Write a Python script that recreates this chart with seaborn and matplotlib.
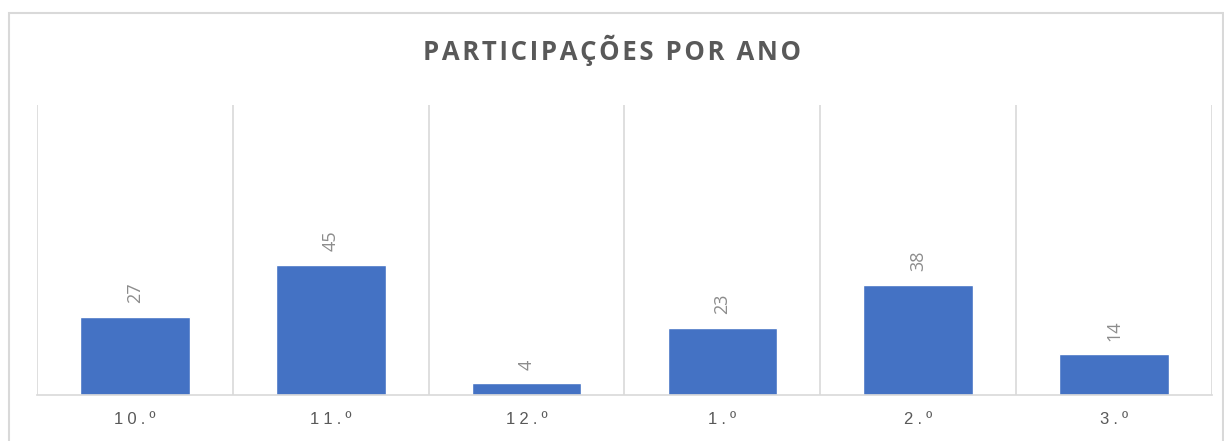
import matplotlib
matplotlib.use('Agg')
import matplotlib.pyplot as plt
import seaborn as sns
import pandas as pd
from matplotlib.patches import Rectangle

categories = ['10.º', '11.º', '12.º', '1.º', '2.º', '3.º']
values = [27, 45, 4, 23, 38, 14]
title = 'PARTICIPAÇÕES POR ANO'

bar_color = '#4472C4'
grid_color = '#D9D9D9'
hair = '\u200a'


def spaced(s, n=1):
    return (hair * n).join(s)


sns.set_theme(style='white')
plt.rcParams['font.family'] = ['Open Sans', 'DejaVu Sans']

df = pd.DataFrame({'ano': categories, 'n': values})

fig = plt.figure(figsize=(12.24, 4.41), dpi=100)
ax = fig.add_axes([37 / 1224, 1 - 395 / 441, (1212 - 37) / 1224, (395 - 105) / 441])

sns.barplot(data=df, x='ano', y='n', color=bar_color, width=0.56, saturation=1, ax=ax)

ax.set_xlim(-0.5, len(categories) - 0.5)
ax.set_ylim(0, 100)

# category separators
for b in [i - 0.5 for i in range(len(categories) + 1)]:
    ax.axvline(b, color=grid_color, lw=1.2, zorder=0)

for i, v in enumerate(values):
    ax.annotate(str(v), (i, v), xytext=(0, 10), textcoords='offset points',
                rotation=90, ha='center', va='bottom', color='#8C8C8C', fontsize=13)

ax.set_xticks(range(len(categories)))
ax.set_xticklabels([spaced(c, 3) for c in categories], color='#595959', fontsize=12,
                   family=['Liberation Sans', 'DejaVu Sans'])
ax.tick_params(axis='x', length=0, pad=12)
ax.set_yticks([])
ax.set_xlabel('')
ax.set_ylabel('')
for side in ['top', 'left', 'right']:
    ax.spines[side].set_visible(False)
ax.spines['bottom'].set_color(grid_color)
ax.spines['bottom'].set_linewidth(1.2)

fig.text(0.5, 1 - 50 / 441, spaced(title, 1), ha='center', va='center',
         fontsize=18.5, fontweight='bold', color='#595959')

# outer chart border
fig.patches.append(Rectangle((9 / 1224, -0.1), (1223 - 9) / 1224, 1.1 - 13 / 441,
                             transform=fig.transFigure, fill=False,
                             edgecolor=grid_color, lw=1.5))

fig.savefig('out.png', dpi=100)
